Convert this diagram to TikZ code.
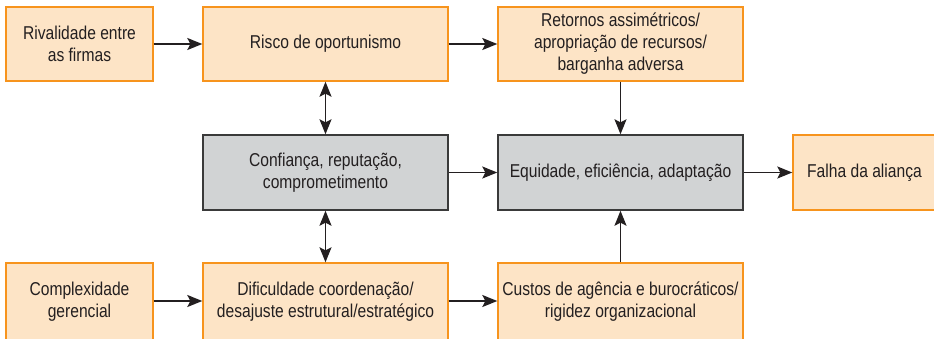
\documentclass[tikz,border=0pt]{standalone}
\usepackage{fontspec}
\setmainfont{Liberation Sans}[FakeStretch=0.84]
\usetikzlibrary{arrows.meta}
\definecolor{peach}{HTML}{FDE4C6}
\definecolor{orangeline}{HTML}{F7941D}
\definecolor{grayfill}{HTML}{D1D3D4}
\definecolor{grayline}{HTML}{3A3A3A}
\definecolor{ink}{HTML}{231F20}
\tikzset{
  base/.style={rectangle, align=center, text=ink, font=\fontsize{18.6}{22}\selectfont, inner sep=0pt},
  obox/.style={base, draw=orangeline, fill=peach, line width=1.4pt},
  gbox/.style={base, draw=grayline, fill=grayfill, line width=1.4pt},
  tip/.style={Stealth[length=15pt,width=12pt,inset=3pt]},
  conn/.style={draw=ink, line width=1.4pt, -{Stealth[length=15pt,width=12pt,inset=3pt]}},
  biconn/.style={draw=ink, line width=1.4pt, {Stealth[length=15pt,width=12pt,inset=3pt]}-{Stealth[length=15pt,width=12pt,inset=3pt]}}
}
\begin{document}
\begin{tikzpicture}[x=1pt,y=-1pt]
\useasboundingbox (0,0) rectangle (934,338);
% top row
\node[obox, minimum width=147pt, minimum height=74pt] (riv) at (79.5,44) {Rivalidade entre\\as firmas};
\node[obox, minimum width=245pt, minimum height=74pt] (ris) at (325.5,44) {Risco de oportunismo};
\node[obox, minimum width=245pt, minimum height=74pt] (ret) at (620.5,44) {Retornos assimétricos/\\apropriação de recursos/\\barganha adversa};
% middle row
\node[gbox, minimum width=245pt, minimum height=75pt] (con) at (325.5,172.5) {Confiança, reputação,\\comprometimento};
\node[gbox, minimum width=245pt, minimum height=75pt] (equ) at (620.5,172.5) {Equidade, eficiência, adaptação};
\node[obox, minimum width=143pt, minimum height=75pt] (fal) at (864.5,172.5) {Falha da aliança};
% bottom row
\node[obox, minimum width=147pt, minimum height=78pt] (com) at (79.5,302) {Complexidade\\gerencial};
\node[obox, minimum width=245pt, minimum height=78pt] (dif) at (325.5,302) {Dificuldade coordenação/\\desajuste estrutural/estratégico};
\node[obox, minimum width=245pt, minimum height=78pt] (cus) at (620.5,302) {Custos de agência e burocráticos/\\rigidez organizacional};
% connectors
\draw[conn] (riv.east) -- (ris.west);
\draw[conn] (ris.east) -- (ret.west);
\draw[conn] (con.east) -- (equ.west);
\draw[conn] (equ.east) -- (fal.west);
\draw[conn] (com.east |- 0,301) -- (dif.west |- 0,301);
\draw[conn] (dif.east |- 0,301) -- (cus.west |- 0,301);
\draw[biconn] (ris.south) -- (con.north);
\draw[biconn] (con.south) -- (dif.north);
\draw[conn] (ret.south) -- (equ.north);
\draw[conn] (cus.north) -- (equ.south);
\end{tikzpicture}
\end{document}
